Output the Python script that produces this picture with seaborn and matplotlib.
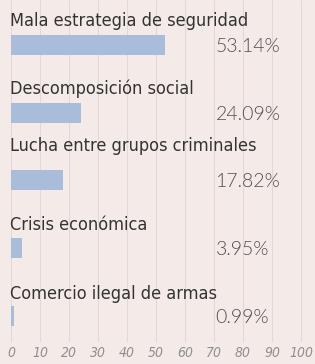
import matplotlib
matplotlib.use("Agg")
import matplotlib.pyplot as plt
import seaborn as sns
import pandas as pd

causas = ["Mala estrategia de seguridad",
          "Descomposición social",
          "Lucha entre grupos criminales",
          "Crisis económica",
          "Comercio ilegal de armas"]
porcentajes = [53.14, 24.09, 17.82, 3.95, 0.99]
etiquetas = ["53.14%", "24.09%", "17.82%", "3.95%", "0.99%"]
ticks = [0, 10, 20, 30, 40, 50, 60, 70, 80, 90, 100]

BG = "#f4ebe8"
BAR = "#a9bcd9"
GRID = "#e3d8d5"
TXT = "#333333"

# gap (points) between bar and the label above it
label_gap = [3.5, 3.5, 11, 3, 2.5]

df = pd.DataFrame({"causa": causas, "pct": porcentajes})

sns.set_theme(style="white")
plt.rcParams["font.family"] = ["DejaVu Sans"]

fig = plt.figure(figsize=(3.15, 3.64), dpi=100)
fig.patch.set_facecolor(BG)
ax = fig.add_axes([0, 22 / 364, 1, 342 / 364])
ax.set_facecolor(BG)

sns.barplot(data=df, x="pct", y="causa", orient="h", color=BAR,
            width=0.295, saturation=1, linewidth=0, ax=ax, zorder=2)

ax.set_xlim(-11 / 2.9, (315 - 11) / 2.9)
ax.set_ylim(4.384, -0.664)
ax.set_xticks(ticks)
ax.set_xticklabels([str(t) for t in ticks], fontstyle="italic",
                   color="#8f8f8f", fontsize=10, fontstretch="condensed")
ax.tick_params(axis="x", length=0, pad=3)
ax.set_yticks([])
ax.set_xlabel("")
ax.set_ylabel("")
for s in ax.spines.values():
    s.set_visible(False)
for t in ticks:
    ax.axvline(t, color=GRID, lw=0.8, zorder=0)

for i, (c, e) in enumerate(zip(causas, etiquetas)):
    ax.annotate(c, xy=(-0.4, i - 0.1475), xytext=(0, label_gap[i]),
                textcoords="offset points", ha="left", va="bottom",
                fontsize=13, color=TXT, fontstretch="condensed")
    ax.text(70.5, i + 0.02, e, ha="left", va="center", fontsize=14,
            color="#4f4f4f", family=["Lato", "DejaVu Sans"],
            fontweight=300)

fig.savefig("out.png", dpi=100, facecolor=BG)
